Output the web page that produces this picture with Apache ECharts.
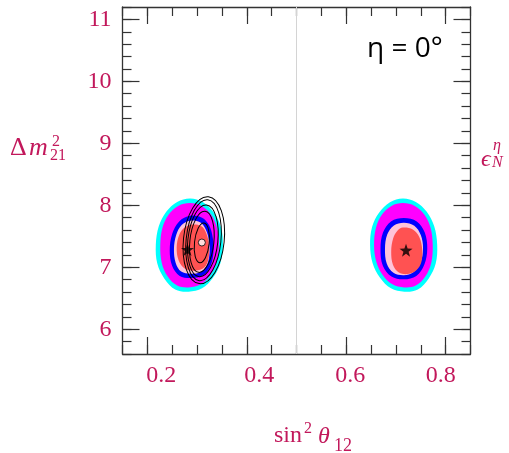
<!DOCTYPE html>
<html><head><meta charset="utf-8">
<script src="https://cdn.jsdelivr.net/npm/echarts@6/dist/echarts.min.js"></script>
<style>html,body{margin:0;padding:0;background:#fff}#c{width:509px;height:453px}</style>
</head><body><div id="c"></div>
<script>
// ---------- data ----------
const xTickLabels = [0.2, 0.4, 0.6, 0.8];
const yTickLabels = [6, 7, 8, 9, 10, 11];
const dividerX = 0.5;
const bestFitStars = [[0.2807, 7.286], [0.7203, 7.275]];
const referencePoint = [[0.3096, 7.399]];

// left island (sin^2 < 0.5)
const leftCyan = [[0.2860,8.110],[0.2600,8.055],[0.2380,7.895],[0.2230,7.660],[0.2170,7.360],[0.2200,7.060],[0.2340,6.820],[0.2560,6.640],[0.2830,6.605],[0.3100,6.660],[0.3320,6.830],[0.3470,7.070],[0.3520,7.360],[0.3480,7.650],[0.3340,7.880],[0.3120,8.050]];
const leftMagenta = [[0.2860,8.035],[0.2620,7.990],[0.2430,7.850],[0.2305,7.640],[0.2260,7.360],[0.2290,7.070],[0.2410,6.850],[0.2600,6.705],[0.2830,6.675],[0.3080,6.730],[0.3270,6.880],[0.3395,7.090],[0.3440,7.360],[0.3400,7.640],[0.3280,7.850],[0.3090,7.990]];
const leftBlue = [[0.2860,7.830],[0.3100,7.800],[0.3240,7.680],[0.3315,7.480],[0.3330,7.250],[0.3270,7.020],[0.3120,6.870],[0.2880,6.825],[0.2650,6.860],[0.2500,7.020],[0.2450,7.270],[0.2500,7.540],[0.2640,7.740]];
const leftPink = [[0.2860,7.750],[0.3060,7.725],[0.3175,7.610],[0.3240,7.430],[0.3250,7.220],[0.3195,7.030],[0.3060,6.920],[0.2870,6.895],[0.2680,6.930],[0.2570,7.070],[0.2535,7.290],[0.2580,7.520],[0.2690,7.680]];
const leftRed = [[0.2900,7.690],[0.3080,7.665],[0.3185,7.550],[0.3240,7.350],[0.3230,7.140],[0.3150,7.000],[0.2960,6.945],[0.2760,6.975],[0.2630,7.110],[0.2590,7.320],[0.2640,7.520],[0.2750,7.640]];

// right island (sin^2 > 0.5)
const rightCyan = [[0.7140,8.110],[0.7400,8.055],[0.7620,7.895],[0.7770,7.660],[0.7830,7.360],[0.7800,7.060],[0.7660,6.820],[0.7440,6.640],[0.7170,6.605],[0.6900,6.660],[0.6680,6.830],[0.6530,7.070],[0.6480,7.360],[0.6520,7.650],[0.6660,7.880],[0.6880,8.050]];
const rightMagenta = [[0.7140,8.035],[0.7380,7.990],[0.7570,7.850],[0.7695,7.640],[0.7740,7.360],[0.7710,7.070],[0.7590,6.850],[0.7400,6.705],[0.7170,6.675],[0.6920,6.730],[0.6730,6.880],[0.6605,7.090],[0.6560,7.360],[0.6600,7.640],[0.6720,7.850],[0.6910,7.990]];
const rightBlue = [[0.7160,7.795],[0.7420,7.740],[0.7580,7.560],[0.7630,7.300],[0.7570,7.040],[0.7410,6.860],[0.7160,6.805],[0.6910,6.850],[0.6735,7.030],[0.6690,7.300],[0.6740,7.560],[0.6900,7.740]];
const rightPink = [[0.7160,7.720],[0.7370,7.670],[0.7500,7.520],[0.7545,7.300],[0.7490,7.070],[0.7350,6.920],[0.7160,6.870],[0.6950,6.910],[0.6815,7.060],[0.6780,7.300],[0.6825,7.530],[0.6960,7.675]];
const rightRed = [[0.7140,7.640],[0.7340,7.610],[0.7470,7.490],[0.7530,7.280],[0.7510,7.080],[0.7410,6.950],[0.7240,6.890],[0.7060,6.915],[0.6940,7.040],[0.6905,7.260],[0.6945,7.470],[0.7030,7.590]];

// black contour lines: [centre x, centre y, half-width, half-height]
const blackContours = [
  [0.3136, 7.437, 0.0410, 0.705],
  [0.3130, 7.437, 0.0350, 0.657],
  [0.3116, 7.426, 0.0302, 0.581],
  [0.3096, 7.410, 0.0242, 0.495],
  [0.3096, 7.394, 0.0148, 0.323]
];
const contourTiltDeg = 6;

// ---------- styling ----------
const XMIN = 0.15, XMAX = 0.85, YMIN = 5.6, YMAX = 11.2;
const AX = '#333333', LAB = '#c2185b';
const SERIF = 'Liberation Serif, DejaVu Serif, serif';
const C = {cyan:'#00ffff', magenta:'#ff00ff', blue:'#0000ff', pink:'#ffc3d9', red:'#ff5252'};

function area(pts, fill) {
  return {
    type: 'custom', data: pts, silent: true, clip: true,
    renderItem: function (params, api) {
      if (params.dataIndex !== 0) return null;
      return {type: 'polygon', shape: {points: pts.map(p => api.coord(p)), smooth: 0.35},
              style: {fill: fill, stroke: null}};
    }
  };
}

const labelShift = {'0.2': 28, '0.4': 25, '0.6': 8, '0.8': -10};
const rich = {};
Object.keys(labelShift).forEach(function (k) {
  const s = labelShift[k];
  rich['k' + k.replace('.', '')] = {fontFamily: SERIF, fontSize: 24, color: LAB,
    padding: s >= 0 ? [0, 0, 0, s] : [0, -s, 0, 0]};
});

function xAxisPair(pos, withLabels) {
  return [
    {type: 'value', position: pos, min: XMIN, max: XMAX, interval: 0.05,
     axisLine: {show: true, onZero: false, lineStyle: {color: AX, width: 1.3}},
     axisTick: {show: true, inside: true, length: 9, lineStyle: {color: AX, width: 1.2}},
     axisLabel: withLabels ? {show: true, customValues: xTickLabels, margin: 10,
        formatter: function (v) { const t = v.toFixed(1); return '{k' + t.replace('.', '') + '|' + t + '}'; },
        rich: rich} : {show: false},
     splitLine: {show: false}},
    {type: 'value', position: pos, min: XMIN, max: XMAX,
     axisLine: {show: false},
     axisTick: {show: true, inside: true, length: 17, customValues: xTickLabels, lineStyle: {color: AX, width: 1.2}},
     axisLabel: {show: false}, splitLine: {show: false}}
  ];
}
function yAxisPair(pos, withLabels) {
  return [
    {type: 'value', position: pos, min: YMIN, max: YMAX, interval: 0.2,
     axisLine: {show: true, onZero: false, lineStyle: {color: AX, width: 1.3}},
     axisTick: {show: true, inside: true, length: 9, lineStyle: {color: AX, width: 1.2}},
     axisLabel: withLabels ? {show: true, customValues: yTickLabels, margin: 11,
        fontFamily: SERIF, fontSize: 24, color: LAB, formatter: function (v) { return String(Math.round(v)); }} : {show: false},
     splitLine: {show: false}},
    {type: 'value', position: pos, min: YMIN, max: YMAX,
     axisLine: {show: false},
     axisTick: {show: true, inside: true, length: 17, customValues: yTickLabels, lineStyle: {color: AX, width: 1.2}},
     axisLabel: {show: false}, splitLine: {show: false}}
  ];
}

function txt(x, y, s, size, italic, color, family) {
  return {type: 'text', x: x, y: y, z: 10, style: {text: s, fontFamily: family || SERIF, fontSize: size,
    fontStyle: italic ? 'italic' : 'normal', fill: color || LAB, verticalAlign: 'middle', align: 'left'}};
}

const chart = echarts.init(document.getElementById('c'), null, {renderer: 'canvas'});
chart.setOption({
  animation: false,
  backgroundColor: '#ffffff',
  grid: {left: 122.5, top: 7, width: 348, height: 347, containLabel: false},
  xAxis: xAxisPair('bottom', true).concat(xAxisPair('top', false)),
  yAxis: yAxisPair('left', true).concat(yAxisPair('right', false)),
  series: [
    {type: 'line', data: [[dividerX, YMIN], [dividerX, YMAX]], symbol: 'none', silent: true,
     lineStyle: {color: '#d4d4d4', width: 1}},
    area(leftCyan, C.cyan), area(leftMagenta, C.magenta), area(leftBlue, C.blue), area(leftPink, C.pink), area(leftRed, C.red),
    area(rightCyan, C.cyan), area(rightMagenta, C.magenta), area(rightBlue, C.blue), area(rightPink, C.pink), area(rightRed, C.red),
    {type: 'custom', data: blackContours, silent: true, clip: true, z: 3,
     encode: {x: 0, y: 1},
     renderItem: function (params, api) {
       const c = api.coord([api.value(0), api.value(1)]);
       const s = api.size([api.value(2), api.value(3)]);
       return {type: 'ellipse', x: c[0], y: c[1], rotation: -contourTiltDeg * Math.PI / 180,
               shape: {cx: 0, cy: 0, rx: s[0], ry: s[1]},
               style: {fill: null, stroke: '#000', lineWidth: 1}};
     }},
    {type: 'scatter', data: bestFitStars, z: 5, silent: true,
     symbol: 'path://M0,-10 L2.35,-3.24 9.51,-3.09 3.8,1.24 5.88,8.09 0,4 -5.88,8.09 -3.8,1.24 -9.51,-3.09 -2.35,-3.24Z',
     symbolSize: 13, itemStyle: {color: '#000'}},
    {type: 'scatter', data: referencePoint, z: 5, silent: true, symbol: 'circle', symbolSize: 7,
     itemStyle: {color: '#fff', borderColor: '#000', borderWidth: 1}}
  ],
  graphic: [
    txt(367, 49, 'η = 0°', 28, false, '#000', 'Open Sans, Noto Sans, sans-serif'),
    txt(10, 148, 'Δ', 26, false), txt(29, 148, 'm', 26, true),
    txt(52, 141.5, '2', 16, false), txt(50, 156, '21', 16, false),
    txt(481, 160, 'ϵ', 24, true), txt(493, 145.5, 'η', 16, true), txt(492, 162.5, 'N', 16, true),
    txt(274, 436, 'sin', 24, false), txt(304, 429, '2', 16, false),
    txt(318, 437, 'θ', 24, true), txt(334, 446, '12', 18, false)
  ]
});
</script></body></html>
